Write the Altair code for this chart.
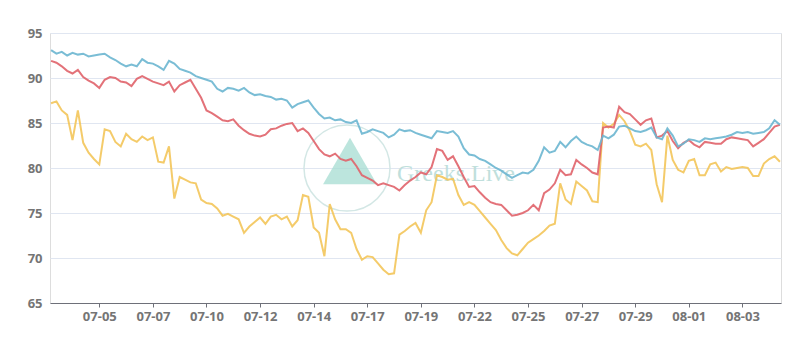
import json
import altair as alt
import pandas as pd

# ---- data ----
tick_labels = ["07-05", "07-07", "07-10", "07-12", "07-14", "07-17", "07-19",
               "07-22", "07-25", "07-27", "07-29", "08-01", "08-03"]
tick_first = 9
tick_step = 10

blue = [93.1, 92.7, 92.9, 92.5, 92.8, 92.6, 92.7, 92.4, 92.5, 92.6,
        92.7, 92.3, 92.0, 91.6, 91.3, 91.5, 91.3, 92.1, 91.7, 91.6,
        91.3, 90.9, 91.9, 91.6, 91.0, 90.8, 90.6, 90.2, 90.0, 89.8,
        89.6, 88.8, 88.5, 88.9, 88.8, 88.6, 88.9, 88.4, 88.1, 88.2,
        88.0, 87.9, 87.6, 87.7, 87.5, 86.7, 87.1, 87.3, 87.5, 86.7,
        86.0, 85.5, 85.6, 85.3, 85.4, 85.1, 85.0, 85.3, 83.8, 84.0,
        84.3, 84.1, 83.9, 83.4, 83.7, 84.3, 84.1, 84.2, 83.9, 83.7,
        83.5, 83.3, 84.1, 84.0, 83.9, 84.1, 83.5, 82.2, 81.5, 81.4,
        81.0, 80.8, 80.4, 80.0, 79.7, 79.3, 78.9, 79.2, 79.5, 79.4,
        79.8, 80.8, 82.3, 81.7, 81.9, 82.9, 82.3, 83.0, 83.5, 82.9,
        82.6, 82.4, 82.0, 83.6, 83.3, 83.7, 84.6, 84.7, 84.4, 84.1,
        84.0, 84.2, 84.5, 83.4, 83.2, 84.4, 83.6, 82.4, 82.7, 83.2,
        83.1, 82.9, 83.3, 83.2, 83.3, 83.4, 83.5, 83.7, 84.0, 83.9,
        84.0, 83.8, 83.9, 84.0, 84.4, 85.3, 84.8]

red = [91.9, 91.7, 91.3, 90.8, 90.5, 90.9, 90.1, 89.7, 89.4, 88.9,
       89.8, 90.1, 90.0, 89.6, 89.5, 89.1, 89.9, 90.2, 89.9, 89.6,
       89.4, 89.2, 89.6, 88.5, 89.2, 89.5, 89.8, 88.8, 87.8, 86.4,
       86.1, 85.7, 85.3, 85.2, 85.4, 84.7, 84.2, 83.8, 83.6, 83.5,
       83.7, 84.3, 84.4, 84.7, 84.9, 85.0, 84.1, 84.4, 83.9, 83.0,
       82.1, 81.5, 81.3, 81.6, 81.0, 80.8, 81.0, 80.2, 79.2, 78.9,
       78.6, 78.1, 78.3, 78.1, 77.9, 77.5, 78.1, 78.6, 79.0, 79.5,
       79.3, 80.1, 82.1, 81.9, 80.9, 81.3, 80.2, 79.0, 77.9, 78.0,
       77.3, 76.7, 76.2, 76.0, 75.9, 75.3, 74.7, 74.8, 75.0, 75.3,
       75.9, 75.3, 77.2, 77.6, 78.3, 79.8, 79.2, 79.3, 80.9, 80.4,
       80.0, 79.5, 79.3, 84.5, 84.6, 84.5, 86.8, 86.2, 86.0, 85.4,
       84.8, 85.3, 85.5, 83.4, 83.6, 84.1, 83.0, 82.2, 82.8, 83.1,
       82.6, 82.3, 82.9, 82.8, 82.7, 82.7, 83.2, 83.4, 83.3, 83.2,
       83.1, 82.4, 82.8, 83.2, 83.9, 84.6, 84.8]

yellow = [87.2, 87.4, 86.4, 85.9, 83.1, 86.4, 82.8, 81.7, 81.0, 80.4,
          84.3, 84.1, 82.9, 82.4, 83.8, 83.2, 82.9, 83.5, 83.1, 83.4,
          80.7, 80.6, 82.4, 76.6, 79.0, 78.7, 78.4, 78.3, 76.5, 76.1,
          76.0, 75.5, 74.7, 74.9, 74.6, 74.3, 72.8, 73.5, 74.0, 74.5,
          73.8, 74.6, 74.8, 74.3, 74.6, 73.5, 74.2, 77.0, 76.8, 73.4,
          72.8, 70.2, 76.0, 74.3, 73.2, 73.2, 72.8, 71.0, 69.8, 70.2,
          70.1, 69.4, 68.7, 68.2, 68.3, 72.6, 73.0, 73.5, 73.9, 72.8,
          75.3, 76.2, 79.2, 79.0, 78.7, 78.8, 77.0, 75.9, 76.2, 75.9,
          75.2, 74.5, 73.8, 73.1, 72.0, 71.1, 70.5, 70.3, 71.0, 71.7,
          72.1, 72.5, 73.0, 73.6, 73.8, 78.3, 76.5, 76.0, 78.5, 78.0,
          77.5, 76.3, 76.2, 85.0, 84.5, 84.9, 85.9, 85.2, 84.1, 82.6,
          82.4, 82.7, 82.0, 78.2, 76.2, 83.6, 80.9, 79.8, 79.5, 80.8,
          81.0, 79.2, 79.2, 80.4, 80.6, 79.6, 80.1, 79.9, 80.0, 80.1,
          80.0, 79.1, 79.1, 80.5, 81.0, 81.3, 80.7]

series_names = ["Series 1", "Series 2", "Series 3"]
series_values = [yellow, red, blue]
series_colors = ["#f3c55a", "#e0636a", "#6cb6d0"]

rows = []
for name, vals in zip(series_names, series_values):
    for i, v in enumerate(vals):
        rows.append({"idx": i, "value": v, "series": name})
df = pd.DataFrame(rows)

tick_positions = [tick_first + tick_step * k for k in range(len(tick_labels))]
label_expr = (json.dumps(tick_labels)
              + f"[round((datum.value - {tick_first}) / {tick_step})]")

axis_font = "Noto Sans"
axis_color = "#6E7079"

lines = alt.Chart(df).mark_line(strokeWidth=2, opacity=0.9).encode(
    x=alt.X("idx:Q",
            scale=alt.Scale(domain=[-0.2, 136.2], nice=False, zero=False),
            axis=alt.Axis(values=tick_positions, labelExpr=label_expr,
                          title=None, grid=False, domainColor=axis_color,
                          tickColor=axis_color, tickSize=4, labelPadding=3,
                          labelFont=axis_font, labelFontSize=13,
                          labelFontWeight="bold", labelColor="#757575")),
    y=alt.Y("value:Q",
            scale=alt.Scale(domain=[65, 95], nice=False, zero=False),
            axis=alt.Axis(values=[65, 70, 75, 80, 85, 90, 95], title=None,
                          domain=False, ticks=False, labelPadding=8,
                          gridColor="#E0E6F1", labelFont=axis_font,
                          labelFontSize=13, labelFontWeight="bold",
                          labelColor="#757575")),
    color=alt.Color("series:N",
                    scale=alt.Scale(domain=series_names, range=series_colors),
                    legend=None),
    order=alt.Order("series:N"),
)

one = pd.DataFrame({"k": [0]})
wm_circle = alt.Chart(one).mark_point(
    shape="circle", filled=False, size=7400, stroke="#d3e7e5",
    strokeWidth=1.5, opacity=1
).encode(x=alt.value(297), y=alt.value(135))

wm_tri = alt.Chart(one).mark_point(
    shape="triangle-up", filled=True, size=2900, fill="#a6dcd2",
    opacity=0.75, strokeWidth=0
).encode(x=alt.value(300), y=alt.value(128))

wm_text = alt.Chart(one).mark_text(
    text="Greeks.Live", font="Liberation Serif", fontSize=24,
    color="#c0dfdc", align="left", baseline="alphabetic"
).encode(x=alt.value(347), y=alt.value(148))

chart = alt.layer(wm_circle, wm_tri, wm_text, lines).properties(
    width=731, height=270,
    autosize=alt.AutoSizeParams(type="none"),
    padding={"left": 50, "top": 33, "right": 10, "bottom": 48},
).configure_view(stroke=None).configure(background="white")

chart.save("out.html", embed_options={"renderer": "svg", "actions": False})
